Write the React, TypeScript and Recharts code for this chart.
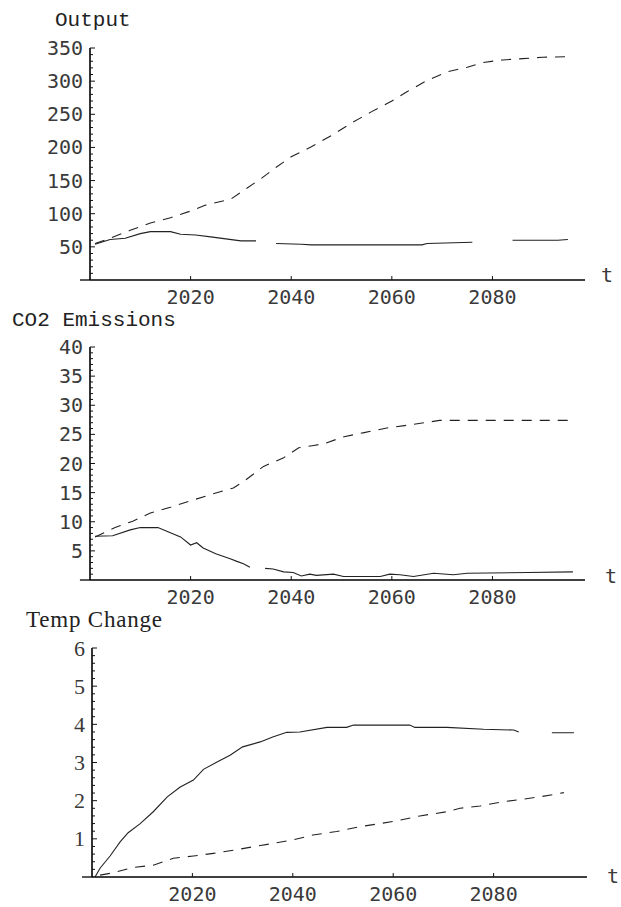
import React from "react";
import { LineChart, Line, XAxis, YAxis, ReferenceLine } from "recharts";

const X_TICKS = [2020, 2040, 2060, 2080];

// Output panel
const OUT_UP_T = [2001, 2004, 2008, 2012, 2016, 2020, 2023, 2028, 2030.5, 2034, 2037, 2040, 2044, 2048, 2052, 2056, 2060, 2063, 2067, 2071, 2075, 2078, 2082, 2086, 2090, 2095];
const OUT_UP = [55, 63, 75, 86, 94, 104, 113, 122, 135, 153, 170, 186, 201, 218, 237, 254, 270, 284, 301, 314, 321, 328, 332, 334, 336, 337];
const OUT_LO_T = [2001, 2004, 2007, 2010, 2012, 2016, 2018, 2021, 2024, 2027, 2030, 2033, 2035, 2037, 2042, 2044, 2066, 2067, 2076, 2080, 2084, 2093, 2095];
const OUT_LO = [54, 61, 63, 70, 73, 73, 69, 68, 65, 62, 59, 59, null, 55, 54, 53, 53, 55, 57, null, 60, 60, 61];
const OUT_Y_MAJOR = [50, 100, 150, 200, 250, 300, 350];

// CO2 panel
const CO2_UP_T = [2001, 2005, 2008.5, 2012, 2016, 2020, 2024.5, 2028.5, 2031, 2034.5, 2038.5, 2041.5, 2044.5, 2046.5, 2050.5, 2054.5, 2059, 2062.5, 2066.5, 2069.5, 2096];
const CO2_UP = [7.4, 9.0, 10.1, 11.5, 12.5, 13.6, 14.8, 15.8, 17.2, 19.5, 21, 22.7, 23.1, 23.4, 24.6, 25.3, 26.1, 26.5, 27.0, 27.4, 27.4];
const CO2_LO_T = [2001, 2004.5, 2008, 2010, 2013.5, 2015.5, 2018, 2020, 2021.2, 2022.5, 2025, 2028, 2029.2, 2030.5, 2031.8, 2033, 2034.8, 2036.4, 2038.5, 2040.4, 2042, 2043.7, 2045, 2048.4, 2050.4, 2057.7, 2059.6, 2061.6, 2064.3, 2068.3, 2072.2, 2075, 2087, 2096];
const CO2_LO = [7.5, 7.6, 8.6, 9.0, 9.0, 8.3, 7.4, 6.0, 6.4, 5.5, 4.5, 3.6, 3.2, 2.8, 2.2, null, 2.0, 1.9, 1.4, 1.3, 0.7, 1.0, 0.8, 1.0, 0.6, 0.6, 1.0, 0.9, 0.6, 1.15, 0.9, 1.15, 1.3, 1.4];
const CO2_Y_MAJOR = [5, 10, 15, 20, 25, 30, 35, 40];

// Temp panel
const TMP_UP_T = [2000.6, 2001.6, 2003.6, 2005.6, 2007.2, 2009.6, 2012.2, 2015, 2017.5, 2020.2, 2022.2, 2025, 2027.5, 2030, 2033.5, 2036, 2038.8, 2041.4, 2046.8, 2050.7, 2052.1, 2063.3, 2064.3, 2070.7, 2078, 2084, 2085, 2088, 2091.6, 2096];
const TMP_UP = [0, 0.23, 0.55, 0.92, 1.16, 1.4, 1.71, 2.1, 2.35, 2.54, 2.82, 3.02, 3.19, 3.41, 3.54, 3.67, 3.79, 3.8, 3.92, 3.92, 3.98, 3.98, 3.92, 3.92, 3.87, 3.85, 3.8, null, 3.78, 3.78];
const TMP_LO_T = [2001.6, 2004.2, 2008.2, 2012.2, 2016.2, 2020.2, 2024.2, 2028.2, 2032, 2036, 2040, 2044, 2048.7, 2053.4, 2057.4, 2061.4, 2065.3, 2070.7, 2073.3, 2077.3, 2081.3, 2085.3, 2089.2, 2094];
const TMP_LO = [0.05, 0.11, 0.25, 0.31, 0.49, 0.55, 0.62, 0.7, 0.79, 0.88, 0.97, 1.1, 1.19, 1.32, 1.4, 1.49, 1.6, 1.71, 1.8, 1.86, 1.96, 2.03, 2.1, 2.21];
const TMP_Y_MAJOR = [1, 2, 3, 4, 5, 6];

const INK = "#222";
const NUM_INK = "#3a3a3a";
const MONO = "'Liberation Mono', monospace";
const SANS_MONO = "'DejaVu Sans Mono', monospace";
const SERIF = "'Liberation Serif', serif";

function pts(ts: number[], vs: (number | null)[]) {
  return ts.map((t, i) => ({ t, v: vs[i] }));
}

// minor ticks: 4 between each pair of majors
function allTicks(major: number[]) {
  const step = (major[1] - major[0]) / 5;
  const out: number[] = [];
  const n = Math.round(major[major.length - 1] / step);
  for (let i = 1; i <= n; i++) out.push(+(i * step).toFixed(4));
  return out;
}

function YTick(props: any) {
  const { x, y, payload, major, font, size } = props;
  const isMajor = major.some((m: number) => Math.abs(m - payload.value) < 1e-6);
  return (
    <g>
      <line x1={x} y1={y} x2={x + (isMajor ? 5 : 3)} y2={y} stroke="#111" strokeWidth={1} />
      {isMajor && (
        <text x={x - 7} y={y} textAnchor="end" dominantBaseline="central" fontFamily={font} fontSize={size} fill={NUM_INK}>
          {payload.value}
        </text>
      )}
    </g>
  );
}

function XTick(props: any) {
  const { x, y, payload } = props;
  return (
    <g>
      <line x1={x} y1={y} x2={x} y2={y - 4} stroke="#111" strokeWidth={1} />
      <text x={x} y={y + 17} textAnchor="middle" dominantBaseline="central" fontFamily={SANS_MONO} fontSize={20} fill={NUM_INK}>
        {payload.value}
      </text>
    </g>
  );
}

type PanelProps = {
  top: number;
  height: number;
  marginTop: number;
  axisX: number;
  right: number;
  xMax: number;
  yMax: number;
  major: number[];
  font: string;
  fontSize: number;
  solid: { t: number; v: number | null }[];
  dashed: { t: number; v: number | null }[];
};

function Panel(p: PanelProps) {
  return (
    <div style={{ position: "absolute", left: 0, top: p.top }}>
      <LineChart width={621} height={p.height} margin={{ top: p.marginTop, right: 621 - p.right, left: 0, bottom: 0 }}>
        <XAxis
          dataKey="t"
          type="number"
          domain={[2000, p.xMax]}
          allowDataOverflow
          ticks={X_TICKS}
          interval={0}
          height={30}
          tickSize={0}
          tickMargin={0}
          tickLine={false}
          axisLine={{ stroke: "#000", strokeWidth: 1.3 }}
          tick={(tp: any) => <XTick {...tp} />}
        />
        <YAxis
          type="number"
          domain={[0, p.yMax]}
          allowDataOverflow
          ticks={allTicks(p.major)}
          interval={0}
          width={p.axisX}
          tickSize={0}
          tickMargin={0}
          tickLine={false}
          axisLine={{ stroke: "#000", strokeWidth: 1.6 }}
          tick={(tp: any) => <YTick {...tp} major={p.major} font={p.font} size={p.fontSize} />}
        />
        <ReferenceLine
          segment={[{ x: 1998, y: 0 }, { x: 2000, y: 0 }]}
          ifOverflow="visible"
          stroke="#000"
          strokeWidth={1.3}
        />
        <Line data={p.dashed} dataKey="v" type="linear" stroke={INK} strokeWidth={1.1} strokeDasharray="10 8" dot={false} activeDot={false} connectNulls={false} isAnimationActive={false} />
        <Line data={p.solid} dataKey="v" type="linear" stroke={INK} strokeWidth={1.1} dot={false} activeDot={false} connectNulls={false} isAnimationActive={false} />
      </LineChart>
    </div>
  );
}

export default function App() {
  return (
    <div style={{ position: "absolute", left: 0, top: 0, width: 621, height: 907, background: "#fff", overflow: "hidden" }}>
      <Panel
        top={0}
        height={310}
        marginTop={48}
        axisX={90}
        right={585}
        xMax={2098.4}
        yMax={350}
        major={OUT_Y_MAJOR}
        font={SANS_MONO}
        fontSize={20}
        solid={pts(OUT_LO_T, OUT_LO)}
        dashed={pts(OUT_UP_T, OUT_UP)}
      />
      <Panel
        top={300}
        height={310}
        marginTop={47}
        axisX={90}
        right={585}
        xMax={2098.4}
        yMax={40}
        major={CO2_Y_MAJOR}
        font={SANS_MONO}
        fontSize={20}
        solid={pts(CO2_LO_T, CO2_LO)}
        dashed={pts(CO2_UP_T, CO2_UP)}
      />
      <Panel
        top={600}
        height={307}
        marginTop={48}
        axisX={92}
        right={587}
        xMax={2098.6}
        yMax={6}
        major={TMP_Y_MAJOR}
        font={SERIF}
        fontSize={22}
        solid={pts(TMP_UP_T, TMP_UP)}
        dashed={pts(TMP_LO_T, TMP_LO)}
      />
      <svg width={621} height={907} style={{ position: "absolute", left: 0, top: 0, pointerEvents: "none" }}>
        <text x={55} y={26} fontFamily={MONO} fontSize={21} fill={INK}>Output</text>
        <text x={12} y={326} fontFamily={MONO} fontSize={21} fill={INK}>CO2 Emissions</text>
        <text x={26} y={627} fontFamily={SERIF} fontSize={23} letterSpacing={0.8} fill={INK}>Temp Change</text>
        <text x={601} y={282} fontFamily={SANS_MONO} fontSize={20} fill={NUM_INK}>t</text>
        <text x={605} y={583} fontFamily={SANS_MONO} fontSize={20} fill={NUM_INK}>t</text>
        <text x={607} y={883} fontFamily={SANS_MONO} fontSize={20} fill={NUM_INK}>t</text>
      </svg>
    </div>
  );
}
